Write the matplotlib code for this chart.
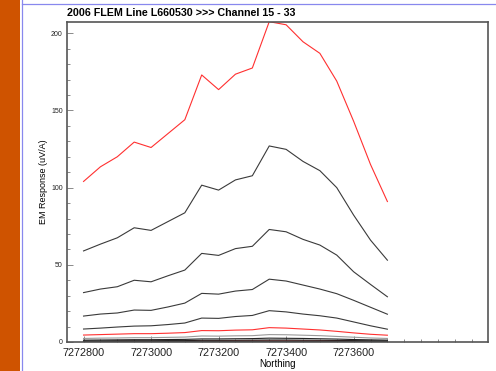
import matplotlib
matplotlib.use('Agg')
import matplotlib.pyplot as plt
from matplotlib.patches import Rectangle
from matplotlib.lines import Line2D
from matplotlib.ticker import MultipleLocator, FixedLocator

plt.rcParams['font.family'] = ['Liberation Sans', 'DejaVu Sans']

northing = [7272800, 7272850, 7272900, 7272950, 7273000, 7273050, 7273100, 7273150, 7273200, 7273250,
            7273300, 7273350, 7273400, 7273450, 7273500, 7273550, 7273600, 7273650, 7273700]
xtick_labels = [7272800, 7273000, 7273200, 7273400, 7273600]

# channel 15 .. 33
ch15 = [104, 113.5, 120, 129.5, 126, 135, 144, 173, 163.5, 173.5, 177.5, 207.5, 205.5, 194.5, 187, 169, 143, 115, 91]
ch16 = [59, 63.4, 67.5, 74, 72.3, 78, 83.7, 101.6, 98.4, 105, 107.7, 127, 124.8, 117, 111, 100, 82.2, 66, 53]
ch17 = [32, 34.3, 35.8, 40, 39, 42.9, 46.6, 57.4, 56.1, 60.5, 62, 72.9, 71.4, 66.5, 62.8, 56.3, 45.5, 37.3, 29.3]
ch18 = [16.8, 18.1, 18.8, 20.7, 20.5, 22.7, 25.2, 31.5, 31, 33, 34, 40.7, 39.5, 36.9, 34.3, 31.3, 27, 22.5, 18]
ch19 = [8.4, 9, 9.7, 10.3, 10.5, 11.3, 12.3, 15.5, 15.3, 16.5, 17.2, 20.3, 19.5, 18.1, 17, 15.5, 13, 10.5, 8.3]
ch20 = [4.5, 4.8, 5.1, 5.4, 5.4, 5.7, 6.1, 7.4, 7.3, 7.7, 7.9, 9.3, 9, 8.4, 7.8, 6.9, 5.9, 5, 4.4]
ch21 = [2.3, 2.5, 2.6, 2.8, 2.8, 3.0, 3.2, 3.9, 3.8, 4.0, 4.1, 4.8, 4.7, 4.4, 4.1, 3.6, 3.1, 2.6, 2.3]
ch22 = [1.2, 1.3, 1.4, 1.5, 1.5, 1.6, 1.7, 2.0, 2.0, 2.1, 2.2, 2.5, 2.4, 2.3, 2.1, 1.9, 1.6, 1.4, 1.2]
ch23 = [0.7, 0.7, 0.8, 0.8, 0.8, 0.9, 0.9, 1.1, 1.1, 1.1, 1.2, 1.3, 1.3, 1.2, 1.1, 1.0, 0.9, 0.8, 0.7]
ch24 = [0.4, 0.4, 0.4, 0.5, 0.5, 0.5, 0.5, 0.6, 0.6, 0.6, 0.7, 0.7, 0.7, 0.7, 0.6, 0.6, 0.5, 0.4, 0.4]
ch25 = [0.25, 0.25, 0.3, 0.3, 0.3, 0.3, 0.3, 0.35, 0.35, 0.4, 0.4, 0.45, 0.45, 0.4, 0.4, 0.35, 0.3, 0.3, 0.25]
ch26 = [0.15, 0.15, 0.2, 0.2, 0.2, 0.2, 0.2, 0.25, 0.25, 0.25, 0.3, 0.3, 0.3, 0.3, 0.25, 0.25, 0.2, 0.2, 0.15]
ch27 = [0.1, 0.1, 0.1, 0.15, 0.1, 0.15, 0.15, 0.2, 0.15, 0.2, 0.2, 0.2, 0.2, 0.2, 0.2, 0.15, 0.15, 0.1, 0.1]
ch28 = [0.05, 0.1, 0.05, 0.1, 0.1, 0.1, 0.1, 0.1, 0.15, 0.1, 0.15, 0.15, 0.15, 0.1, 0.15, 0.1, 0.1, 0.1, 0.05]
ch29 = [0.05, 0.05, 0.05, 0.05, 0.1, 0.05, 0.05, 0.1, 0.1, 0.1, 0.1, 0.1, 0.1, 0.1, 0.1, 0.05, 0.05, 0.05, 0.05]
ch30 = [0.03, 0.04, 0.03, 0.05, 0.04, 0.05, 0.05, 0.06, 0.05, 0.07, 0.06, 0.08, 0.07, 0.06, 0.06, 0.05, 0.04, 0.04, 0.03]
ch31 = [0.02, 0.03, 0.02, 0.03, 0.03, 0.03, 0.04, 0.04, 0.04, 0.05, 0.04, 0.05, 0.05, 0.04, 0.04, 0.03, 0.03, 0.02, 0.02]
ch32 = [0.01, 0.02, 0.02, 0.02, 0.02, 0.02, 0.03, 0.03, 0.03, 0.03, 0.03, 0.04, 0.03, 0.03, 0.03, 0.02, 0.02, 0.02, 0.01]
ch33 = [0.01, 0.01, 0.01, 0.01, 0.02, 0.01, 0.02, 0.02, 0.02, 0.02, 0.02, 0.02, 0.02, 0.02, 0.02, 0.01, 0.01, 0.01, 0.01]

channels = [ch15, ch16, ch17, ch18, ch19, ch20, ch21, ch22, ch23, ch24,
            ch25, ch26, ch27, ch28, ch29, ch30, ch31, ch32, ch33]
colors = ['#ff3030', '#3a3a3a', '#3a3a3a', '#3a3a3a', '#3a3a3a',
          '#ff3030', '#999999', '#222222', '#222222', '#222222',
          '#aa2020', '#111111', '#111111', '#111111', '#111111',
          '#881818', '#111111', '#111111', '#111111']

fig = plt.figure(figsize=(4.96, 3.71), dpi=100)

# slide decoration
fig.patches.append(Rectangle((0, 0), 19.5 / 496, 1, transform=fig.transFigure,
                             facecolor='#cf5300', edgecolor='none', zorder=0))
fig.lines.append(Line2D([21.5 / 496, 21.5 / 496], [0, 1], transform=fig.transFigure,
                        color='#8888ee', lw=0.9))
fig.lines.append(Line2D([21.5 / 496, 1], [1 - 3.5 / 371, 1 - 3.5 / 371], transform=fig.transFigure,
                        color='#8888ee', lw=0.9))

ax = fig.add_axes([67 / 496, 1 - 342 / 371, (488 - 67) / 496, (342 - 22) / 371])

for vals, c in zip(channels, colors):
    ax.plot(northing, vals, color=c, lw=0.8)

ax.set_xlim(7272751, 7273998)
ax.set_ylim(0, 207.3)
ax.xaxis.set_major_locator(FixedLocator(xtick_labels))
ax.xaxis.set_minor_locator(MultipleLocator(50))
ax.yaxis.set_major_locator(MultipleLocator(50))
ax.yaxis.set_minor_locator(MultipleLocator(10))
ax.ticklabel_format(useOffset=False, style='plain', axis='x')

ax.tick_params(which='both', direction='in', colors='#777777', labelcolor='#222222')
ax.tick_params(which='major', length=4, width=0.6)
ax.tick_params(which='minor', length=2, width=0.6)
ax.tick_params(axis='y', labelsize=5, pad=3)
ax.tick_params(axis='x', labelsize=7.8, pad=4)

for s in ax.spines.values():
    s.set_color('#555555')
    s.set_linewidth(1.2)

ax.set_xlabel('Northing', fontsize=7, labelpad=1)
ax.set_ylabel('EM Response (uV/A)', fontsize=6.5, labelpad=2)
ax.set_title('2006 FLEM Line L660530 >>> Channel 15 - 33', loc='left', fontsize=7.7,
             fontweight='bold', pad=4)

fig.savefig('out.png', dpi=100)
